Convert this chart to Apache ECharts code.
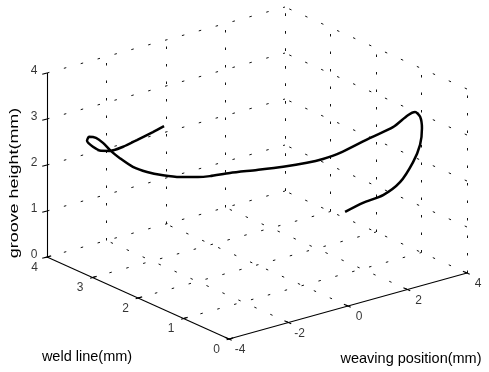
<!DOCTYPE html>
<html><head><meta charset="utf-8">
<script src="https://cdn.jsdelivr.net/npm/echarts@6/dist/echarts.min.js"></script>
<style>html,body{margin:0;padding:0;background:#fff}#c{width:489px;height:372px}</style>
</head><body><div id="c"></div>
<script>
// ---- data ----
const weavingTicks = [-4, -2, 0, 2, 4];
const weldTicks = [0, 1, 2, 3, 4];
const heightTicks = [0, 1, 2, 3, 4];

const weaving = [-0.83,-1.25,-1.85,-2.36,-2.85,-3.18,-3.48,-3.71,-3.67,-3.47,-3.28,-3.07,-2.85,-2.49,-2.09,-1.63,-1.15,-0.65,-0.36,0.16,0.84,1.49,2.06,2.40,2.76,3.19,3.50,3.62,3.66,3.74,3.74,3.63,3.35,2.85,2.22,1.48,0.82];
const weld = [3.50,3.47,3.43,3.40,3.37,3.35,3.33,3.31,3.29,3.27,3.24,3.20,3.15,3.10,3.05,3.00,2.94,2.87,2.80,2.70,2.55,2.40,2.25,2.12,1.98,1.60,1.30,1.05,0.92,0.86,0.82,0.79,0.76,0.72,0.68,0.64,0.60];
const height = [2.50,2.46,2.41,2.37,2.38,2.45,2.60,2.78,2.87,2.82,2.69,2.49,2.32,2.09,1.93,1.80,1.70,1.64,1.64,1.66,1.67,1.69,1.74,1.82,1.95,2.37,2.68,3.03,3.15,3.06,2.83,2.50,2.19,1.86,1.71,1.69,1.63];

// ---- 3D view (oblique projection onto the hidden 2D cartesian plane) ----
const X0 = weavingTicks[0], X1 = weavingTicks[weavingTicks.length-1];
const Y0 = weldTicks[0], Y1 = weldTicks[weldTicks.length-1];
const Z0 = heightTicks[0], Z1 = heightTicks[heightTicks.length-1];
const ORG = [229, 339];
const EX = [29.75, -8.25], EY = [-45.5, -20.5], EZ = [0, -46];
function P(x, y, z) {
  const u = x - X0, v = y - Y0, w = z - Z0;
  return [ORG[0] + u*EX[0] + v*EY[0] + w*EZ[0], ORG[1] + u*EX[1] + v*EY[1] + w*EZ[1]];
}
function seg(a, b) { return { coords: [P(...a), P(...b)] }; }

// grid lines on the three back planes
const gridSegs = [];
weldTicks.forEach(y => { if (y !== Y0) gridSegs.push(seg([X0,y,Z0],[X1,y,Z0])); });
weavingTicks.forEach(x => { if (x !== X0) gridSegs.push(seg([x,Y0,Z0],[x,Y1,Z0])); });
heightTicks.forEach(z => { if (z !== Z0) gridSegs.push(seg([X0,Y1,z],[X1,Y1,z])); });
weavingTicks.forEach(x => { if (x !== X0) gridSegs.push(seg([x,Y1,Z0],[x,Y1,Z1])); });
heightTicks.forEach(z => { if (z !== Z0) gridSegs.push(seg([X1,Y0,z],[X1,Y1,z])); });
weldTicks.forEach(y => gridSegs.push(seg([X1,y,Z0],[X1,y,Z1])));

// axes and ticks
const axisSegs = [
  seg([X0,Y0,Z0],[X1,Y0,Z0]),
  seg([X0,Y0,Z0],[X0,Y1,Z0]),
  seg([X0,Y1,Z0],[X0,Y1,Z1])
];
weavingTicks.forEach(x => axisSegs.push(seg([x,Y0-0.06,Z0],[x,Y0+0.09,Z0])));
weldTicks.forEach(y => axisSegs.push(seg([X0-0.08,y,Z0],[X0+0.14,y,Z0])));
heightTicks.forEach(z => axisSegs.push(seg([X0-0.16,Y1,z],[X0,Y1,z])));

function lab(pt, dx, dy, text) { const p = P(...pt); return { value: [p[0]+dx, p[1]+dy], name: String(text) }; }
const labels = [];
weavingTicks.forEach(x => labels.push(lab([x,Y0,Z0], 11, 11, x)));
weldTicks.forEach(y => labels.push(lab([X0,y,Z0], -12.5, 10.5, y)));
heightTicks.forEach(z => labels.push(lab([X0,Y1,z], -13, -2, z)));

const curve = weaving.map((x, i) => P(x, weld[i], height[i]));

const FONT = '"Liberation Sans", Arial, sans-serif';
const chart = echarts.init(document.getElementById('c'), null, { renderer: 'canvas' });
chart.setOption({
  animation: false,
  backgroundColor: '#fff',
  grid: { left: 0, right: 0, top: 0, bottom: 0 },
  xAxis: { type: 'value', min: 0, max: 489, show: false },
  yAxis: { type: 'value', min: 0, max: 372, inverse: true, show: false },
  series: [
    { type: 'lines', coordinateSystem: 'cartesian2d', data: gridSegs, silent: true,
      lineStyle: { color: '#111', width: 1, type: [2.5, 15], opacity: 1 }, z: 1 },
    { type: 'lines', coordinateSystem: 'cartesian2d', data: axisSegs, silent: true,
      lineStyle: { color: '#000', width: 1.1, type: 'solid', opacity: 1 }, z: 2 },
    { type: 'scatter', data: labels, symbolSize: 0, silent: true, z: 3,
      label: { show: true, position: 'inside', formatter: p => p.name, color: '#000',
               fontSize: 12, fontFamily: FONT } },
    { type: 'line', data: curve, showSymbol: false, smooth: 0.25, silent: true, z: 4,
      lineStyle: { color: '#000', width: 2.5 } }
  ],
  graphic: [
    { type: 'text', x: 87, y: 357, style: { text: 'weld line(mm)', font: '14.5px ' + FONT, fill: '#000', align: 'center', verticalAlign: 'middle' } },
    { type: 'text', x: 411, y: 359, style: { text: 'weaving position(mm)', font: '14.5px ' + FONT, fill: '#000', align: 'center', verticalAlign: 'middle' } },
    { type: 'text', x: 14, y: 183, rotation: Math.PI/2, scaleX: 1.38, style: { text: 'groove height(mm)', font: '13px ' + FONT, fill: '#000', align: 'center', verticalAlign: 'middle' } }
  ]
});
</script></body></html>
